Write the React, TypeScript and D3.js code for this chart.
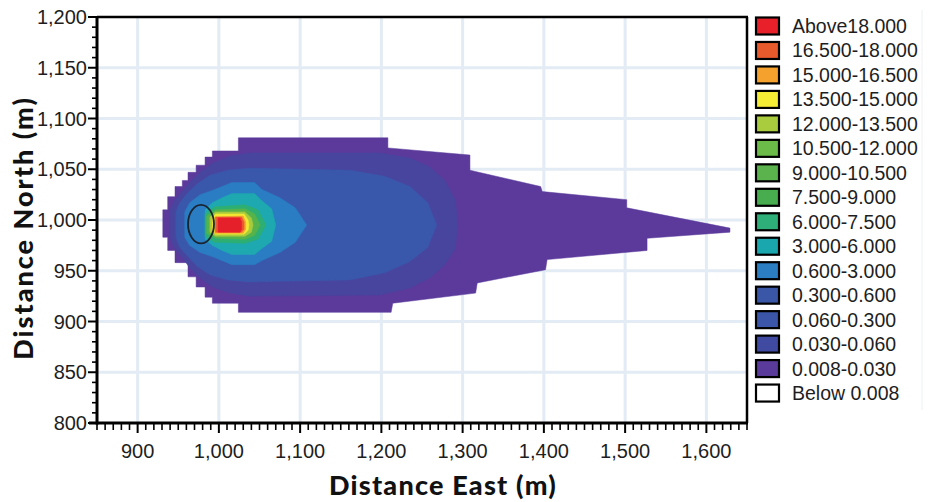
import React from "react";
import * as d3 from "d3";

// ---- axis data ----
const xDomain = [850, 1650];
const yDomain = [800, 1200];
const xTickValues = [900, 1000, 1100, 1200, 1300, 1400, 1500, 1600];
const yTickValues = [800, 850, 900, 950, 1000, 1050, 1100, 1150, 1200];
const xGridValues = [900, 1000, 1100, 1200, 1300, 1400, 1500, 1600];
const yGridValues = [850, 900, 950, 1000, 1050, 1100, 1150];

// ---- legend ----
const legendLabels = [
  "Above18.000", "16.500-18.000", "15.000-16.500", "13.500-15.000", "12.000-13.500",
  "10.500-12.000", "9.000-10.500", "7.500-9.000", "6.000-7.500", "3.000-6.000",
  "0.600-3.000", "0.300-0.600", "0.060-0.300", "0.030-0.060", "0.008-0.030", "Below 0.008",
];
const legendColors = [
  "#e8202a", "#e85a2c", "#f4a22d", "#f5ec35", "#a9cb3e",
  "#6cba48", "#5ab34d", "#47ad4e", "#2eae78", "#1aa7ae",
  "#2b7ec2", "#3a56a6", "#3b55a8", "#3f4aa0", "#5a3a9a", "#ffffff",
];

// ---- plume contour bands (East m, North m) ----
const band0008: [number, number][] = [
  [931, 983], [931, 1010], [937, 1010], [937, 1023], [946, 1023], [946, 1033], [955, 1033], [955, 1039],
  [962, 1039], [962, 1047], [972, 1047], [972, 1054], [983, 1054], [983, 1062], [992, 1062], [992, 1068],
  [1024, 1068], [1024, 1081], [1208, 1081], [1208, 1071], [1309, 1064], [1309, 1049], [1396, 1033],
  [1398, 1028], [1502, 1020], [1502, 1012], [1629, 992], [1629, 988], [1527, 982], [1527, 970],
  [1404, 961], [1402, 951], [1318, 938], [1316, 928], [1214, 918], [1212, 909], [1024, 909], [1024, 918],
  [992, 918], [992, 924], [983, 924], [983, 934], [972, 934], [972, 944], [962, 944], [962, 958],
  [946, 958], [946, 970], [937, 970], [937, 983],
];
const band0030: [number, number][] = [
  [940, 1010], [946, 1020], [955, 1028], [964, 1037], [977, 1047], [992, 1056], [1014, 1063], [1038, 1066],
  [1198, 1066], [1235, 1061], [1260, 1052], [1278, 1039], [1291, 1020], [1294, 995], [1291, 972],
  [1278, 956], [1260, 943], [1235, 933], [1198, 926], [1038, 925], [1014, 928], [992, 934], [977, 943],
  [964, 953], [955, 963], [946, 972], [940, 982],
];
const band0060: [number, number][] = [
  [947, 1008], [952, 1017], [962, 1027], [974, 1036], [989, 1044], [1011, 1049], [1038, 1051], [1161, 1049],
  [1204, 1043], [1235, 1033], [1257, 1017], [1268, 995], [1257, 973], [1235, 959], [1204, 948],
  [1161, 941], [1038, 939], [1011, 941], [989, 946], [974, 954], [962, 964], [952, 973], [947, 983],
];
const band0600: [number, number][] = [
  [958, 1008], [964, 1017], [977, 1025], [995, 1030], [1016, 1037], [1044, 1037], [1053, 1030], [1075, 1022],
  [1094, 1012], [1108, 995], [1094, 978], [1075, 968], [1053, 960], [1044, 956], [1016, 956], [995, 963],
  [977, 968], [964, 975], [958, 983],
];
const band3000: [number, number][] = [
  [983, 1010], [992, 1017], [1004, 1022], [1016, 1026], [1044, 1026], [1053, 1019], [1065, 1011],
  [1070, 995], [1065, 979], [1053, 972], [1044, 966], [1016, 966], [1004, 970], [992, 975], [983, 981],
];
const band6000: [number, number][] = [
  [983, 1006], [995, 1013], [1032, 1015], [1048, 1010], [1058, 995], [1048, 981], [1032, 977], [995, 978], [983, 984],
];
const band9000: [number, number][] = [
  [985, 1004], [996, 1010], [1032, 1011], [1044, 1006], [1051, 995], [1044, 985], [1032, 981], [996, 982], [985, 987],
];
const band12000: [number, number][] = [
  [989, 1003], [996, 1008], [1032, 1008], [1040, 1002], [1042, 995], [1040, 988], [1032, 984], [996, 984], [989, 988],
];
const band13500: [number, number][] = [
  [992, 1002], [996, 1006], [1031, 1006], [1036, 1000], [1037, 995], [1036, 990], [1031, 986], [996, 986], [992, 989],
];
const band15000: [number, number][] = [
  [995, 1003], [1030, 1004], [1033, 998], [1033, 991], [1030, 987], [995, 987],
];
const band16500: [number, number][] = [
  [996, 1003], [1028, 1003], [1031, 998], [1031, 991], [1028, 988], [996, 988],
];
const bandAbove18: [number, number][] = [
  [999, 1002], [1026, 1002], [1028, 998], [1028, 991], [1026, 988], [999, 988],
];
const plumeBands = [band0008, band0030, band0060, band0600, band3000, band6000, band9000, band12000, band13500, band15000, band16500, bandAbove18];
const plumeColors = ["#5b3a9b", "#48459f", "#3a58ab", "#2a7cc3", "#1ea8b0", "#2daf73", "#56b34b", "#a8cb3d", "#f3e933", "#f5a32e", "#eb5b30", "#e6202b"];

// source marker (East, North, radius E, radius N)
const sourceCenter = [978, 996];
const sourceRadius = [16, 19];

export default function App() {
  const W = 928, H = 502;
  const left = 97, right = 747, top = 17, bottom = 423;
  const x = d3.scaleLinear().domain(xDomain).range([left, right]);
  const y = d3.scaleLinear().domain(yDomain).range([bottom, top]);
  const line = d3.line<[number, number]>().x((d) => x(d[0])).y((d) => y(d[1]));
  const fmt = d3.format(",");
  const xMinor = d3.range(xDomain[0], xDomain[1] + 1, 10).filter((v) => v % 100 !== 0);
  const yMinor = d3.range(yDomain[0], yDomain[1] + 1, 10).filter((v) => v % 50 !== 0);
  const tickFont = "'Liberation Sans', Arial, sans-serif";
  const titleFont = "Lato, 'Open Sans', sans-serif";

  return (
    <svg width={W} height={H} style={{ position: "absolute", left: 0, top: 0, background: "#fff" }}>
      {/* grid */}
      {xGridValues.map((v) => (
        <line key={"gx" + v} x1={x(v)} x2={x(v)} y1={top} y2={bottom} stroke="#e3ebf4" strokeWidth={3} />
      ))}
      {yGridValues.map((v) => (
        <line key={"gy" + v} x1={left} x2={right} y1={y(v)} y2={y(v)} stroke="#e3ebf4" strokeWidth={3} />
      ))}

      {/* plume */}
      {plumeBands.map((b, i) => (
        <path key={"b" + i} d={line(b) + "Z"} fill={plumeColors[i]} stroke={plumeColors[i]} strokeWidth={0.5} />
      ))}

      {/* source ellipse */}
      <ellipse
        cx={x(sourceCenter[0])}
        cy={y(sourceCenter[1])}
        rx={x(sourceCenter[0] + sourceRadius[0]) - x(sourceCenter[0])}
        ry={y(sourceCenter[1]) - y(sourceCenter[1] + sourceRadius[1])}
        fill="none"
        stroke="#1a2430"
        strokeWidth={1.8}
      />

      {/* frame */}
      <line x1={left} x2={right + 1} y1={top} y2={top} stroke="#000" strokeWidth={2.5} />
      <line x1={right} x2={right} y1={top} y2={bottom} stroke="#000" strokeWidth={2.5} />
      <line x1={left} x2={left} y1={top - 1} y2={bottom + 1.5} stroke="#000" strokeWidth={3} />
      <line x1={left - 8} x2={right + 1} y1={bottom} y2={bottom} stroke="#000" strokeWidth={3} />

      {/* x ticks */}
      {xMinor.map((v) => (
        <line key={"xm" + v} x1={x(v)} x2={x(v)} y1={bottom} y2={bottom + 7} stroke="#000" strokeWidth={1.6} />
      ))}
      {xTickValues.map((v) => (
        <g key={"xt" + v}>
          <line x1={x(v)} x2={x(v)} y1={bottom} y2={bottom + 10} stroke="#000" strokeWidth={2} />
          <text x={x(v)} y={458} textAnchor="middle" fontFamily={tickFont} fontSize={20} fill="#1e1e1e">
            {fmt(v)}
          </text>
        </g>
      ))}

      {/* y ticks */}
      {yMinor.map((v) => (
        <line key={"ym" + v} x1={left - 5} x2={left} y1={y(v)} y2={y(v)} stroke="#000" strokeWidth={1.6} />
      ))}
      {yTickValues.map((v) => (
        <g key={"yt" + v}>
          <line x1={left - 9} x2={left} y1={y(v)} y2={y(v)} stroke="#000" strokeWidth={2} />
          <text x={87} y={y(v) + 7} textAnchor="end" fontFamily={tickFont} fontSize={20} fill="#1e1e1e">
            {fmt(v)}
          </text>
        </g>
      ))}

      {/* axis titles */}
      <text x={443} y={495} textAnchor="middle" fontFamily={titleFont} fontWeight={900} fontSize={27} letterSpacing={1.2} fill="#111">
        Distance East (m)
      </text>
      <text
        transform={`translate(33, 228) rotate(-90)`}
        textAnchor="middle"
        fontFamily={titleFont}
        fontWeight={900}
        fontSize={27}
        letterSpacing={2}
        fill="#111"
      >
        Distance North (m)
      </text>

      {/* legend */}
      <line x1={922} x2={922} y1={10} y2={410} stroke="#eef0f2" strokeWidth={1} />
      {legendLabels.map((lab, i) => {
        const cy = 26 + i * 24.47;
        return (
          <g key={"lg" + i}>
            <rect x={756} y={cy - 8.5} width={23} height={17} fill={legendColors[i]} stroke="#000" strokeWidth={2.2} />
            <text x={792} y={cy + 7} fontFamily={tickFont} fontSize={19.5} fill="#1e1e1e">
              {lab}
            </text>
          </g>
        );
      })}
    </svg>
  );
}
